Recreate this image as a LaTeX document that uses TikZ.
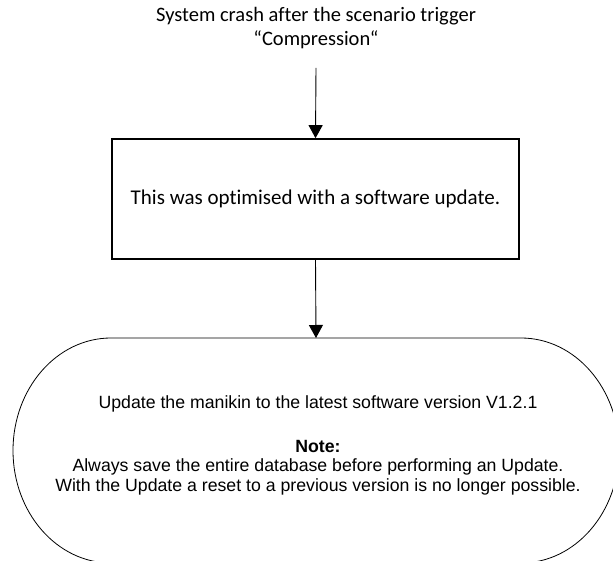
\documentclass[tikz,border=0pt]{standalone}
\usepackage{fontspec}
\setmainfont{Carlito}[Ligatures=NoCommon]
\newfontfamily\arialf{Liberation Sans}
\usetikzlibrary{arrows.meta}
\begin{document}
\begin{tikzpicture}[x=1pt,y=-1pt,
  conn/.style={draw=black, line width=0.9pt, -{Triangle[width=14pt,length=13pt]}},
  calitext/.style={font=\fontsize{20.5}{24}\selectfont, align=center, inner sep=0pt},
  procbox/.style={draw=black, line width=1.6pt, minimum width=407pt, minimum height=120pt, inner sep=0pt, font=\fontsize{21}{26}\selectfont},
  termtext/.style={font=\arialf\fontsize{17.7}{19.5}\selectfont, align=center, inner sep=0pt}]
\useasboundingbox (0,0) rectangle (613,561);
\clip (0,0) rectangle (613,561);
\node[calitext] (t) at (316,28) {System crash after the scenario trigger\\“Compression“};
\coordinate (tout) at (316,68);
\node[procbox] (b) at (315.5,199) {\raisebox{-1.5pt}{This was optimised with a software update.}};
\coordinate (utop) at (316,338);
\draw[line width=0.8pt] (111,338) -- (521,338)
  arc[start angle=-90, end angle=90, x radius=98, y radius=112.5]
  -- (111,563)
  arc[start angle=90, end angle=270, x radius=98, y radius=112.5] -- cycle;
\node[termtext] (u) at (318,445) {Update the manikin to the latest software version V1.2.1\\[24.5pt]\textbf{Note:}\\Always save the entire database before performing an Update.\\With the Update a reset to a previous version is no longer possible.};
\draw[conn] (tout) -- (b.north);
\draw[conn] (b.south) -- (utop);
\end{tikzpicture}
\end{document}
